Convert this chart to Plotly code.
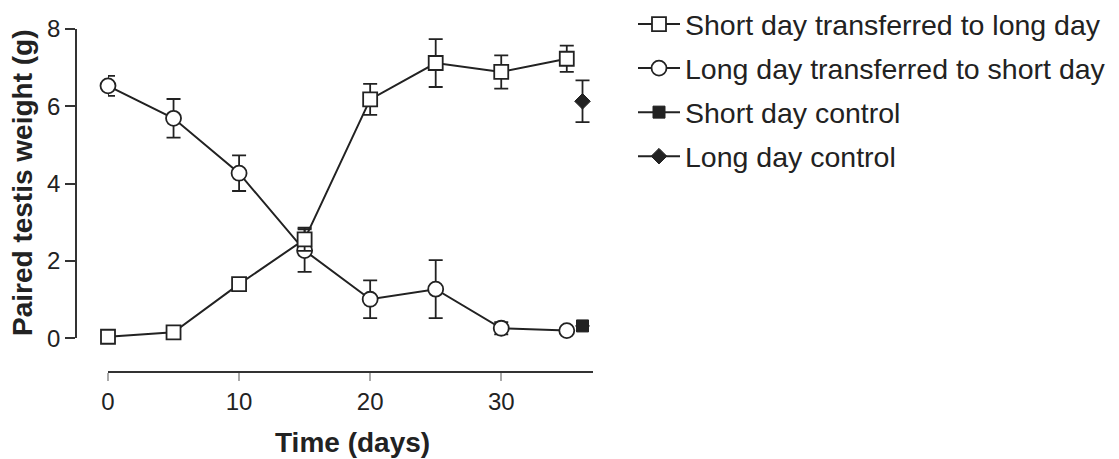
import plotly.graph_objects as go

# Time points (days) for the two transfer groups
days = [0, 5, 10, 15, 20, 25, 30, 35]

# Short day transferred to long day: mean and SEM (g)
sd_to_ld = [0.04, 0.155, 1.40, 2.56, 6.18, 7.12, 6.89, 7.23]
sd_to_ld_err = [0, 0, 0.15, 0.30, 0.40, 0.62, 0.43, 0.34]

# Long day transferred to short day: mean and SEM (g)
ld_to_sd = [6.53, 5.69, 4.27, 2.27, 1.01, 1.27, 0.26, 0.20]
ld_to_sd_err = [0.26, 0.50, 0.46, 0.55, 0.49, 0.75, 0.16, 0]

# Controls, sampled at the end of the experiment
control_day = [36.2]
sd_control = [0.32]
sd_control_err = [0]
ld_control = [6.13]
ld_control_err = [0.54]

x_ticks = [0, 10, 20, 30]
y_ticks = [0, 2, 4, 6, 8]

W, H = 1119, 459
INK = "#222222"
FONT = "Liberation Sans, Arial, sans-serif"


def px_x(p):
    return p / W


def px_y(p):
    return 1 - p / H


def err(vals):
    return dict(type="data", array=vals, visible=True, color=INK,
                thickness=1.8, width=7)


fig = go.Figure()

fig.add_trace(go.Scatter(
    x=days, y=ld_to_sd, name="Long day transferred to short day",
    mode="lines+markers", error_y=err(ld_to_sd_err),
    line=dict(color=INK, width=2),
    marker=dict(symbol="circle", size=15, color="white",
                line=dict(color=INK, width=1.8)),
    cliponaxis=False, legendrank=2, legendgroup="g2",
))

fig.add_trace(go.Scatter(
    x=days, y=sd_to_ld, name="Short day transferred to long day",
    mode="lines+markers", error_y=err(sd_to_ld_err),
    line=dict(color=INK, width=2),
    marker=dict(symbol="square", size=14, color="white",
                line=dict(color=INK, width=1.8)),
    cliponaxis=False, legendrank=1, legendgroup="g1",
))

fig.add_trace(go.Scatter(
    x=control_day, y=sd_control, name="Short day control",
    mode="lines+markers", error_y=err(sd_control_err),
    line=dict(color=INK, width=2),
    marker=dict(symbol="square", size=12, color=INK,
                line=dict(color=INK, width=1)),
    cliponaxis=False, legendrank=3, legendgroup="g3",
))

fig.add_trace(go.Scatter(
    x=control_day, y=ld_control, name="Long day control",
    mode="lines+markers", error_y=err(ld_control_err),
    line=dict(color=INK, width=2),
    marker=dict(symbol="diamond", size=12, color=INK,
                line=dict(color=INK, width=1)),
    cliponaxis=False, legendrank=4, legendgroup="g4",
))

fig.update_layout(
    width=W, height=H,
    margin=dict(l=0, r=0, t=0, b=0, autoexpand=False),
    paper_bgcolor="white", plot_bgcolor="white",
    font=dict(family=FONT, color=INK),
    showlegend=True,
    legend=dict(
        x=px_x(633), y=px_y(-1), xanchor="left", yanchor="top",
        font=dict(size=28.5, color=INK, family=FONT),
        bgcolor="rgba(0,0,0,0)", tracegroupgap=4, itemwidth=42,
        itemclick=False,
    ),
    xaxis=dict(
        domain=[px_x(108), px_x(593)], range=[0, 37],
        anchor="free", position=px_y(372),
        showline=True, linecolor="#333333", linewidth=1.5,
        showgrid=False, zeroline=False,
        tickmode="array", tickvals=x_ticks,
        ticks="outside", ticklen=8, tickwidth=2, tickcolor="#aaaaaa",
        tickfont=dict(size=24, color=INK, family=FONT),
    ),
    yaxis=dict(
        domain=[px_y(338.3), px_y(29)], range=[0, 8],
        anchor="free", position=px_x(76),
        showline=True, linecolor="#333333", linewidth=1.5,
        showgrid=False, zeroline=False,
        tickmode="array", tickvals=y_ticks,
        ticks="outside", ticklen=10, tickwidth=1.5, tickcolor="#333333",
        tickfont=dict(size=24, color=INK, family=FONT),
    ),
    annotations=[
        dict(text="<b>Paired testis weight (g)</b>", textangle=-90,
             x=px_x(22), y=px_y(183), xref="paper", yref="paper",
             xanchor="center", yanchor="middle",
             showarrow=False, font=dict(size=28, color=INK, family=FONT)),
        dict(text="<b>Time (days)</b>",
             x=px_x(352), y=px_y(442), xref="paper", yref="paper",
             xanchor="center", yanchor="middle",
             showarrow=False, font=dict(size=28, color=INK, family=FONT)),
    ],
)

fig.write_html("out.html")
